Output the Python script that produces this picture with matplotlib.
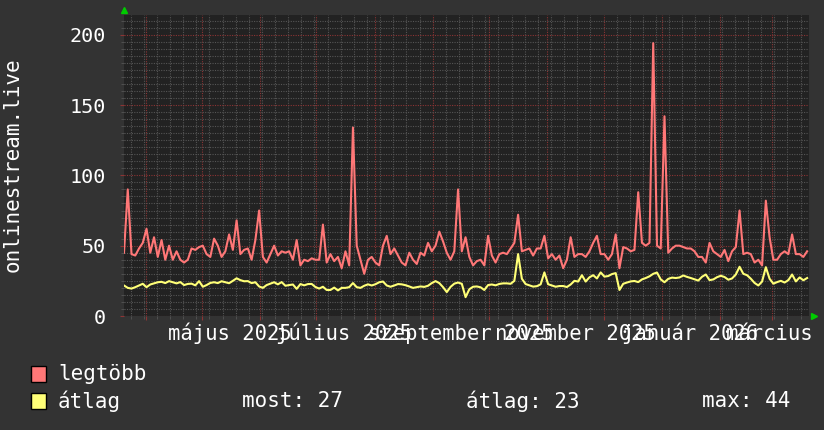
import pandas as pd
import matplotlib.pyplot as plt
import matplotlib.dates as mdates
from matplotlib.patches import Rectangle

# idősor: kétnaponkénti értékek egy évre
start = pd.Timestamp('2025-03-20 12:00')
end = start + pd.Timedelta(days=365)
dates = pd.date_range(start, periods=183, freq='2D')

legtobb = [45, 90, 44, 43, 48, 52, 62, 45, 56, 42, 54, 40, 50, 40, 46, 40, 38, 40, 48, 47,
           49, 50, 44, 42, 55, 50, 42, 46, 58, 47, 68, 44, 47, 48, 40, 54, 75, 42, 38, 44,
           50, 43, 46, 45, 46, 40, 54, 36, 40, 39, 41, 40, 40, 65, 38, 44, 39, 42, 34, 46,
           36, 134, 50, 40, 30, 40, 42, 38, 36, 50, 57, 44, 48, 43, 38, 36, 45, 40, 37, 45,
           43, 52, 46, 50, 60, 53, 45, 40, 46, 90, 46, 56, 42, 36, 39, 40, 36, 57, 43, 38,
           44, 45, 44, 48, 52, 72, 46, 47, 48, 43, 48, 48, 57, 41, 44, 40, 43, 34, 40, 56,
           42, 44, 44, 42, 46, 52, 57, 44, 44, 40, 44, 58, 34, 49, 48, 46, 47, 88, 52, 50,
           52, 194, 50, 48, 142, 45, 48, 50, 50, 49, 48, 48, 46, 42, 42, 38, 52, 46, 44, 42,
           47, 39, 46, 49, 75, 44, 45, 44, 38, 40, 36, 82, 56, 40, 40, 44, 46, 44, 58, 44,
           44, 42, 46]

atlag = [21.7, 20, 19.5, 20.5, 21.7, 22.9, 20.5, 22.4, 23.2, 24, 24.3, 23.4, 24.8, 24, 23.2,
         24.1, 22, 22.8, 23, 21.8, 24.8, 20.8, 22, 23.5, 24, 23.4, 24.7, 24, 23.3, 25,
         26.8, 25.5, 24.7, 24.8, 23.4, 24, 21, 20, 22, 23, 24, 22.5, 24.1, 21.5, 22,
         22.4, 19.3, 22.7, 21.8, 22.7, 22.8, 20.6, 19.5, 20.8, 18.5, 18.5, 20.2, 18.2, 20, 20,
         20.5, 23.4, 20.5, 20, 21.5, 22.5, 21.7, 22.6, 24, 24.5, 21.7, 20.8, 21.7, 22.7, 22.5,
         21.9, 21, 20, 20.5, 21, 20.7, 21.5, 23.4, 24.8, 23.4, 20.5, 17, 20.7, 23, 23.8,
         22.9, 13.4, 19, 20.8, 21, 20.4, 18.5, 22, 22.4, 21.8, 22.8, 23.2, 23.2, 22.9, 25,
         44, 26.5, 22.7, 21.8, 20.9, 21.2, 22.5, 31, 22.6, 21.7, 20.8, 21.3, 21.3, 20.6, 22.4,
         25, 24.5, 29, 24.5, 27.5, 29, 26.7, 31, 28, 28.4, 29.8, 30.5, 18.5, 22.9, 23.8,
         24.6, 24.9, 24.1, 26, 27, 28.2, 30, 30.9, 26, 24, 26.4, 27.3, 27, 27.4, 28.8,
         27.8, 27, 26.1, 25.2, 27.9, 29.5, 25.5, 26, 27.6, 28.6, 27.7, 25.8, 26.7, 29.5, 35,
         30, 29, 26.5, 23.5, 21.7, 24.5, 34.7, 26.5, 23, 24.1, 25, 23.8, 25.5, 29.5, 24.6,
         27.4, 25.4, 27]

honap_cimkek = ['május 2025', 'július 2025', 'szeptember 2025', 'november 2025',
                'január 2026', 'március 2026']
cimke_datumok = pd.to_datetime(['2025-05-16', '2025-07-16', '2025-09-16', '2025-11-16',
                                '2026-01-16', '2026-03-16'])
statisztika = ['most: 27', 'átlag: 23', 'max: 44']

piros = '#ff7777'
sarga = '#ffff77'

plt.rcParams['font.family'] = ['DejaVu Sans Mono', 'DejaVu Sans']

fig = plt.figure(figsize=(8.24, 4.30), dpi=100, facecolor='#333333')
ax = fig.add_axes([124 / 824, 114 / 430, 685 / 824, 301 / 430], facecolor='#222222')

ax.plot(dates, legtobb, color=piros, lw=1.5, zorder=3)
ax.plot(dates, atlag, color=sarga, lw=1.5, zorder=3)

ax.set_xlim(start, end)
ax.set_ylim(0, 214)

ax.xaxis.set_major_locator(mdates.MonthLocator())
ax.xaxis.set_minor_locator(mdates.WeekdayLocator(byweekday=mdates.MO))
ax.xaxis.set_major_formatter(plt.NullFormatter())
ax.yaxis.set_major_locator(plt.MultipleLocator(50))
ax.yaxis.set_minor_locator(plt.MultipleLocator(5))

ax.set_axisbelow(True)
ax.grid(which='minor', color='#555555', ls=(0, (1, 1.2)), lw=0.8)
ax.grid(which='major', color='#8c3434', ls=(0, (1, 1.2)), lw=0.8)

ax.tick_params(which='major', length=3, color='#8c3434', labelsize=14.5,
               labelcolor='white', pad=10)
ax.tick_params(which='minor', length=2, color='#555555')
for s in ax.spines.values():
    s.set_visible(False)

# honapnevek a honap kozepen, mint az rrdtool-nal
for d, t in zip(cimke_datumok, honap_cimkek):
    ax.text(d, -0.08, t, transform=ax.get_xaxis_transform(), ha='center',
            va='baseline', fontsize=14.8, color='white', clip_on=False)

# zold nyilak a tengelyek vegen
ax.plot([0], [1.016], marker='^', color='#00cc00', ms=5, transform=ax.transAxes,
        clip_on=False)
ax.plot([1.008], [0], marker='>', color='#00cc00', ms=5, transform=ax.transAxes,
        clip_on=False)

fig.text(13 / 824, 1 - 165 / 430, 'onlinestream.live', rotation=90, ha='center',
         va='center', fontsize=15, color='white')

# jelmagyarazat
for y, c in [(382, piros), (409, sarga)]:
    fig.add_artist(Rectangle((31 / 824, 1 - y / 430), 15 / 824, 16 / 430,
                             transform=fig.transFigure, facecolor=c,
                             edgecolor='black', lw=1))
fig.text(58 / 824, 1 - 374 / 430, 'legtöbb', va='center', fontsize=15, color='white')
fig.text(58 / 824, 1 - 401 / 430, 'átlag', va='center', fontsize=15, color='white')
for x, t in zip([242, 466, 702], statisztika):
    fig.text(x / 824, 1 - 401 / 430, t, va='center', fontsize=15, color='white')

fig.savefig('out.png', dpi=100, facecolor=fig.get_facecolor())
